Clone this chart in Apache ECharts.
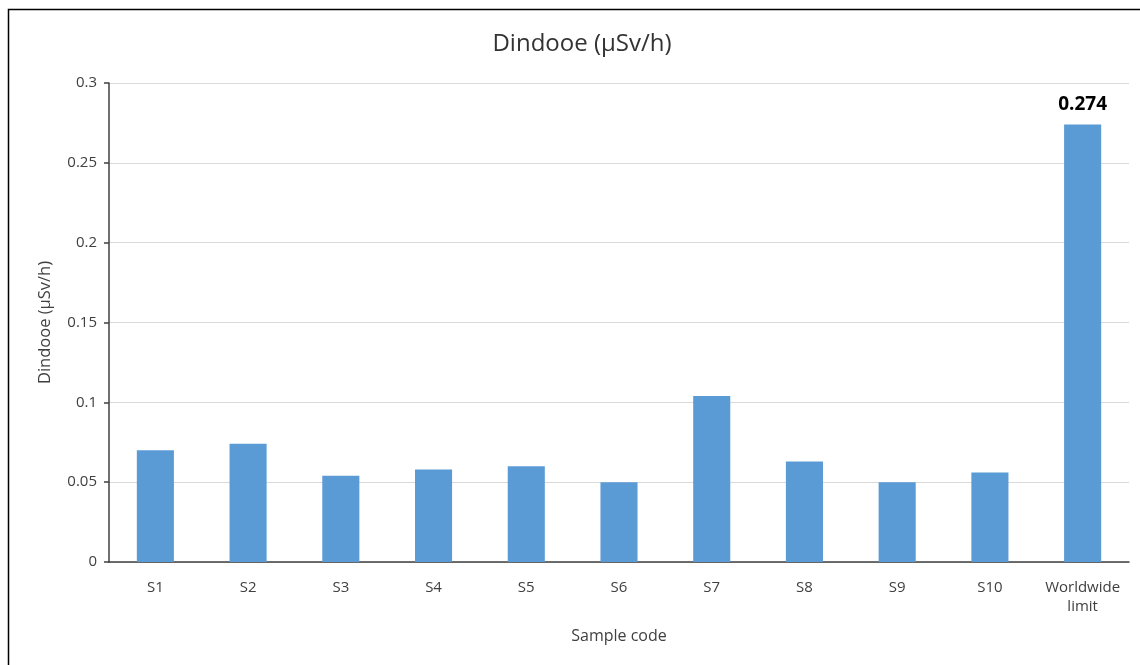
<!DOCTYPE html>
<html>
<head>
<meta charset="utf-8">
<style>
  html, body { margin: 0; padding: 0; background: #fff; }
  #chart { width: 1140px; height: 665px; }
</style>
<script src="https://cdn.jsdelivr.net/npm/echarts@6/dist/echarts.min.js"></script>
</head>
<body>
<div id="chart"></div>
<script>
// Dose rate per sample, plus the worldwide reference limit
const categories = ['S1', 'S2', 'S3', 'S4', 'S5', 'S6', 'S7', 'S8', 'S9', 'S10', 'Worldwide\nlimit'];
const doseRates = [0.070, 0.074, 0.054, 0.058, 0.060, 0.050, 0.104, 0.063, 0.050, 0.056, 0.274];
const labelledIndex = 10; // only the limit bar carries a value label
const yTicks = { min: 0, max: 0.3, interval: 0.05 };

const font = '"Open Sans", "Noto Sans", sans-serif';
const textColor = '#404040';

const chart = echarts.init(document.getElementById('chart'), null, { renderer: 'canvas' });

chart.setOption({
  animation: false,
  backgroundColor: '#ffffff',
  title: {
    text: 'Dindooe (µSv/h)',
    left: 577,
    top: 27,
    textAlign: 'center',
    textStyle: { fontFamily: font, fontSize: 24, fontWeight: 'normal', color: '#333333' }
  },
  graphic: [{
    type: 'rect',
    shape: { x: 8.5, y: 9.5, width: 1200, height: 700 },
    style: { fill: 'none', stroke: '#000000', lineWidth: 1.5 },
    silent: true,
    z: 100
  }],
  grid: { left: 109, right: 11, top: 83, bottom: 103, containLabel: false },
  xAxis: {
    type: 'category',
    data: categories,
    name: 'Sample code',
    nameLocation: 'middle',
    nameGap: 66,
    nameTextStyle: { fontFamily: font, fontSize: 16, color: textColor },
    axisLine: { lineStyle: { color: '#404040', width: 1.5 } },
    axisTick: { show: false },
    axisLabel: { fontFamily: font, fontSize: 15, color: textColor, margin: 16, lineHeight: 19, interval: 0 }
  },
  yAxis: {
    type: 'value',
    min: yTicks.min,
    max: yTicks.max,
    interval: yTicks.interval,
    name: 'Dindooe (µSv/h)',
    nameLocation: 'middle',
    nameGap: 55,
    nameTextStyle: { fontFamily: font, fontSize: 16.5, color: textColor },
    axisLine: { show: true, lineStyle: { color: '#404040', width: 1.5 } },
    axisTick: { show: true, length: 5, lineStyle: { color: '#404040', width: 1.5 } },
    axisLabel: {
      fontFamily: font, fontSize: 15, color: textColor, margin: 12,
      formatter: v => String(Math.round(v * 100) / 100)
    },
    splitLine: { show: true, lineStyle: { color: '#D9D9D9', width: 1 } }
  },
  series: [{
    type: 'bar',
    data: doseRates.map((v, i) => ({
      value: v,
      label: {
        show: i === labelledIndex,
        position: 'top',
        distance: 10,
        fontFamily: font,
        fontSize: 19,
        fontWeight: 'bold',
        color: '#000000',
        formatter: p => p.value.toFixed(3)
      }
    })),
    barWidth: '40%',
    itemStyle: { color: '#5B9BD5' }
  }]
});
</script>
</body>
</html>
